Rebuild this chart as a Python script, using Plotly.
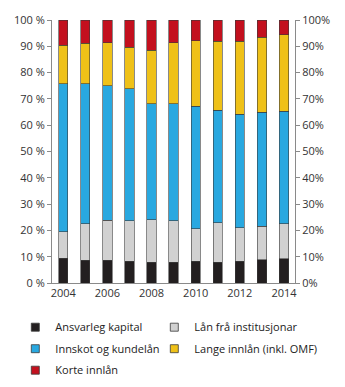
import plotly.graph_objects as go

years = [2004, 2005, 2006, 2007, 2008, 2009, 2010, 2011, 2012, 2013, 2014]
ansvarleg = [9.5, 8.7, 8.7, 8.2, 7.9, 7.9, 8.2, 7.9, 8.2, 8.9, 9.3]
laan_inst = [10.0, 13.9, 15.2, 15.5, 16.1, 15.7, 12.4, 15.1, 12.8, 12.6, 13.3]
innskot = [56.3, 53.2, 51.1, 50.1, 44.1, 44.5, 46.7, 42.7, 43.2, 43.4, 42.8]
lange = [14.6, 15.4, 16.4, 15.9, 20.4, 23.3, 24.9, 26.2, 27.7, 28.5, 29.0]
korte = [9.6, 8.8, 8.6, 10.3, 11.5, 8.6, 7.8, 8.1, 8.1, 6.6, 5.6]

series = [
    ("Ansvarleg kapital", ansvarleg, "#231f20", "legend"),
    ("Lån frå institusjonar", laan_inst, "#d1d1d1", "legend2"),
    ("Innskot og kundelån", innskot, "#29a8e0", "legend"),
    ("Lange innlån (inkl. OMF)", lange, "#efc118", "legend2"),
    ("Korte innlån", korte, "#c3101e", "legend"),
]

left_ticks = [0, 10, 20, 30, 40, 50, 60, 70, 80, 90, 100]
left_labels = [f"{v} %" for v in left_ticks]
right_labels = [f"{v}%" for v in left_ticks]
x_ticks = [2004, 2006, 2008, 2010, 2012, 2014]

fig = go.Figure()
for name, vals, col, lg in series:
    fig.add_trace(go.Bar(
        x=years, y=vals, name=name, showlegend=False,
        marker=dict(color=col, line=dict(color="#3a3a3a", width=0.6)),
    ))
# legend entries (small square swatches)
for name, vals, col, lg in series:
    fig.add_trace(go.Scatter(
        x=[None], y=[None], name=name, mode="markers", legend=lg, legendgroup=name,
        marker=dict(symbol="square", size=8, color=col, line=dict(color="#3a3a3a", width=0.8)),
    ))
# invisible trace for right axis
fig.add_trace(go.Scatter(x=[years[0]], y=[0], yaxis="y2", showlegend=False,
                         mode="markers", marker=dict(opacity=0), hoverinfo="skip"))

font = dict(family="Open Sans, Liberation Sans, sans-serif", size=11, color="#333333")
legend_font = dict(family="Open Sans, Liberation Sans, sans-serif", size=11, color="#222222")
axis_line = "#8a8a8a"

fig.update_layout(
    barmode="stack",
    bargap=0.58,
    width=345, height=387,
    margin=dict(l=52, r=50, t=18, b=104),
    paper_bgcolor="white", plot_bgcolor="white",
    font=font,
    xaxis=dict(range=[2003.49, 2014.5], tickvals=x_ticks, ticktext=[str(v) for v in x_ticks],
               showline=True, linecolor=axis_line, linewidth=1, ticks="", showgrid=False,
               zeroline=False, tickfont=font),
    yaxis=dict(range=[0, 100], tickvals=left_ticks, ticktext=left_labels,
               showline=True, linecolor=axis_line, linewidth=1, ticks="outside",
               ticklen=4, tickcolor=axis_line, showgrid=False, zeroline=False, tickfont=font),
    yaxis2=dict(range=[0, 100], tickvals=left_ticks, ticktext=right_labels, overlaying="y",
                side="right", showline=True, linecolor=axis_line, linewidth=1,
                ticks="outside", ticklen=4, tickcolor=axis_line, showgrid=False,
                zeroline=False, tickfont=font),
    legend=dict(orientation="v", x=-0.151, xanchor="left", xref="paper",
                y=0.192, yanchor="top", yref="container",
                font=legend_font, itemwidth=30, tracegroupgap=2.5, bgcolor="rgba(0,0,0,0)"),
    legend2=dict(orientation="v", x=0.421, xanchor="left", xref="paper",
                 y=0.192, yanchor="top", yref="container",
                 font=legend_font, itemwidth=30, tracegroupgap=2.5, bgcolor="rgba(0,0,0,0)"),
)

fig.write_html("out.html")
